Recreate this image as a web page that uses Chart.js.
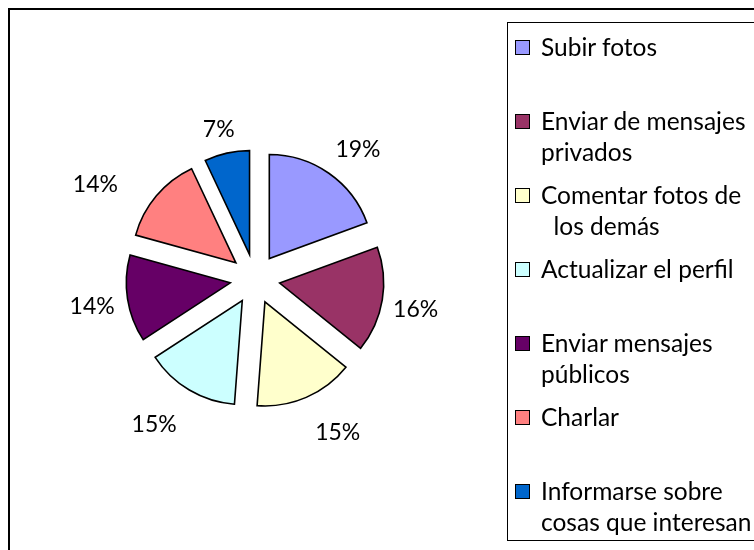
<!DOCTYPE html>
<html>
<head>
<meta charset="utf-8">
<script src="https://cdn.jsdelivr.net/npm/chart.js@4"></script>
<style>
html,body{margin:0;padding:0;background:#fff;overflow:hidden;width:754px;height:550px;}
#wrap{position:relative;width:754px;height:550px;overflow:hidden;background:#fff;}
#frame{position:absolute;left:8px;top:8px;width:900px;height:700px;border-left:2px solid #000;border-top:2px solid #000;}
#chart{position:absolute;left:0;top:0;}
#legend{position:absolute;left:507px;top:22px;width:400px;height:517px;border:1px solid #000;}
.item{position:absolute;left:33px;font-family:Lato,"Open Sans",sans-serif;font-size:24.5px;line-height:31px;color:#000;white-space:pre;}
.sw{position:absolute;left:7px;width:13px;height:13px;border:1px solid #000;}
</style>
</head>
<body>
<div id="wrap">
  <div id="frame"></div>
  <canvas id="chart" width="754" height="550"></canvas>
  <div id="legend"></div>
</div>
<script>
// ---- data ----
const categories = [
  ["Subir fotos"],
  ["Enviar de mensajes", "privados"],
  ["Comentar fotos de", "  los demás"],
  ["Actualizar el perfil"],
  ["Enviar mensajes", "públicos"],
  ["Charlar"],
  ["Informarse sobre", "cosas que interesan"]
];
// shares (%); labels show them rounded
const shares = [19.4, 16.4, 15.4, 14.6, 13.5, 13.7, 7.0];
const colors = ["#9999FF", "#993366", "#FFFFCC", "#CCFFFF", "#660066", "#FF8080", "#0066CC"];

// ---- presentation ----
const explodeGap = 25;
const labelGap = 40;
const labelNudge = [[-2,-2],[-4,-4],[3,11],[-5,11],[2,-5],[-27,8],[11,0]];

// legend (HTML text)
const legend = document.getElementById('legend');
const slot = 74;
categories.forEach((lines, i) => {
  const sw = document.createElement('div');
  sw.className = 'sw';
  sw.style.top = (17 + slot * i) + 'px';
  sw.style.background = colors[i];
  legend.appendChild(sw);
  const t = document.createElement('div');
  t.className = 'item';
  t.style.top = (8 + slot * i) + 'px';
  t.textContent = lines.join('\n');
  legend.appendChild(t);
});

const explodePlugin = {
  id: 'explode',
  beforeDatasetDraw(chart, args) {
    const ctx = chart.ctx;
    args.meta.data.forEach(arc => {
      const mid = (arc.startAngle + arc.endAngle) / 2;
      ctx.save();
      ctx.translate(Math.cos(mid) * explodeGap, Math.sin(mid) * explodeGap);
      arc.draw(ctx);
      ctx.restore();
    });
    return false;
  }
};

const labelPlugin = {
  id: 'pctLabels',
  afterDatasetsDraw(chart) {
    const ctx = chart.ctx;
    const meta = chart.getDatasetMeta(0);
    ctx.save();
    ctx.font = '23px Lato';
    ctx.fillStyle = '#000';
    ctx.textAlign = 'center';
    ctx.textBaseline = 'alphabetic';
    meta.data.forEach((arc, i) => {
      const mid = (arc.startAngle + arc.endAngle) / 2;
      const R = arc.outerRadius + labelGap;
      const ax = arc.x + Math.cos(mid) * R;
      const ay = arc.y + Math.sin(mid) * R;
      const text = Math.round(shares[i]) + '%';
      const w = ctx.measureText(text).width;
      const h = 20;
      const cx = ax + Math.sign(Math.cos(mid)) * w / 2 + labelNudge[i][0];
      const cy = ay + Math.sign(Math.sin(mid)) * h / 2 + labelNudge[i][1];
      ctx.fillText(text, cx, cy + 8.3);
    });
    ctx.restore();
  }
};

new Chart(document.getElementById('chart'), {
  type: 'pie',
  data: {
    labels: categories,
    datasets: [{
      data: shares,
      backgroundColor: colors,
      borderColor: '#000',
      borderWidth: 1.6,
      borderJoinStyle: 'miter'
    }]
  },
  options: {
    responsive: false,
    animation: false,
    devicePixelRatio: 1,
    radius: 104,
    events: [],
    layout: { padding: { left: 10, right: 254, top: 20, bottom: 12 } },
    plugins: { legend: { display: false }, tooltip: { enabled: false } }
  },
  plugins: [explodePlugin, labelPlugin]
});
</script>
</body>
</html>
